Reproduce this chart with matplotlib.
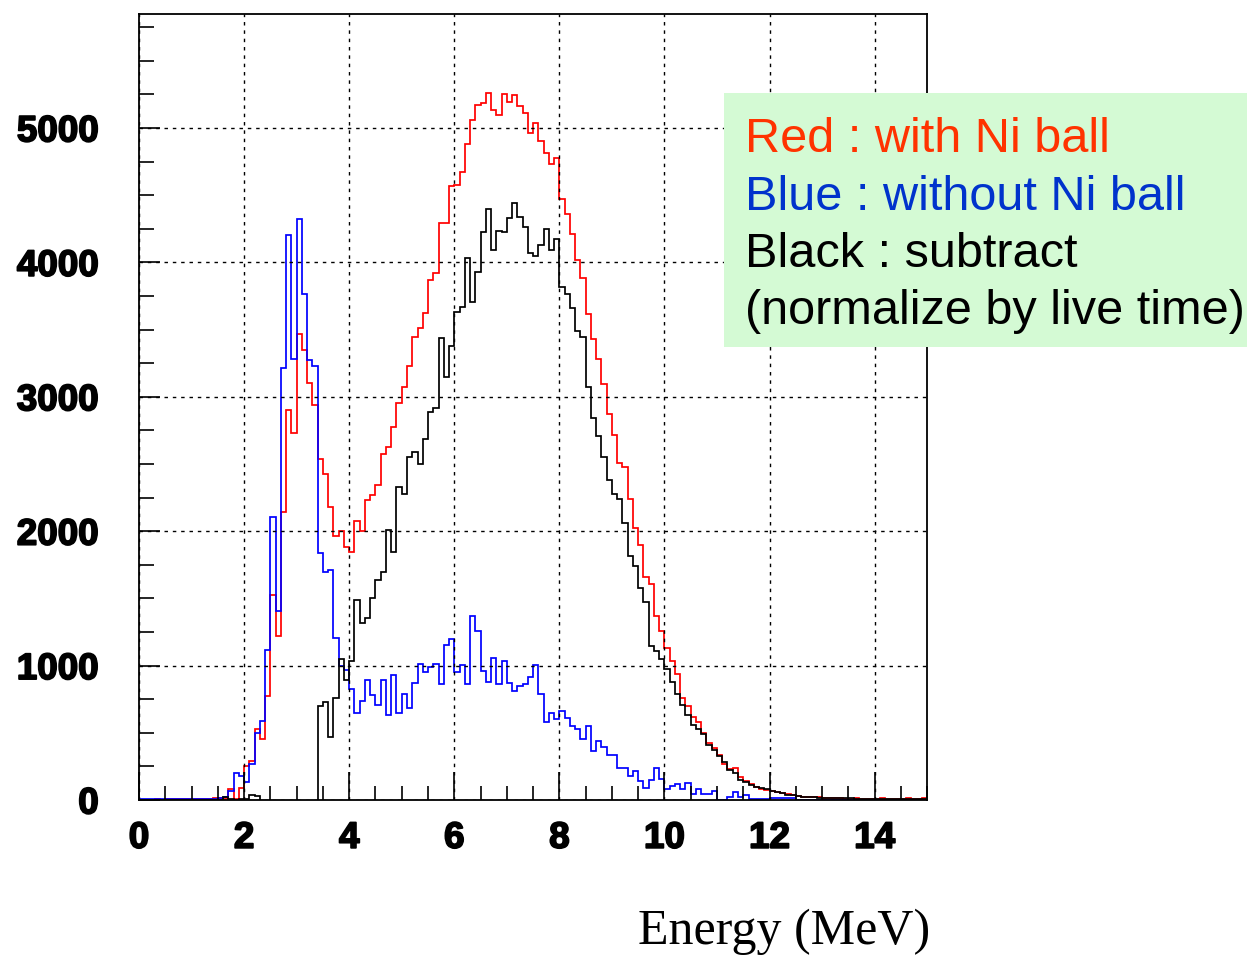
"""
Energy spectra with / without Ni ball and the subtracted spectrum.
"""
import matplotlib
matplotlib.use('Agg')
import matplotlib.pyplot as plt
import matplotlib.patheffects as pe
from matplotlib.patches import Rectangle
from matplotlib.ticker import MultipleLocator
import numpy as np

# 0.1 MeV bins from 0 to 15 MeV
bin_edges = np.round(np.arange(151) * 0.1, 1)

# Red : with Ni ball
red_counts = [
    2, 3, 2, 4, 3, 5, 4, 6, 5, 8,
    6, 9, 8, 10, 12, 12, 10, 80, 10, 90,
    250, 290, 525, 450, 774, 1522, 1223, 2145, 2904, 2730,
    3464, 3348, 3101, 2942, 2540, 2426, 2178, 1967, 2004, 1880,
    1848, 2078, 2004, 2232, 2272, 2344, 2574, 2629, 2777, 2955,
    3069, 3230, 3448, 3515, 3626, 3869, 3923, 4295, 4290, 4567,
    4579, 4671, 4884, 5057, 5173, 5186, 5262, 5136, 5094, 5250,
    5193, 5245, 5161, 5114, 4965, 5040, 4901, 4814, 4735, 4777,
    4475, 4362, 4209, 4014, 3884, 3617, 3429, 3284, 3096, 2875,
    2716, 2507, 2478, 2241, 2020, 1899, 1658, 1609, 1371, 1255,
    1130, 1033, 940, 762, 700, 620, 580, 500, 425, 385,
    336, 268, 234, 235, 170, 141, 116, 94, 79, 74,
    67, 57, 49, 42, 37, 32, 25, 22, 24, 20,
    15, 12, 14, 12, 10, 11, 12, 10, 9, 11,
    10, 12, 10, 9, 11, 10, 12, 11, 10, 12,
]

# Blue : without Ni ball
blue_counts = [
    5, 4, 6, 5, 4, 6, 5, 7, 6, 5,
    6, 7, 5, 8, 6, 12, 25, 70, 198, 179,
    131, 264, 500, 584, 1116, 2107, 1406, 3211, 4203, 3281,
    4319, 3768, 3275, 3232, 1835, 1699, 1711, 1203, 1000, 967,
    823, 650, 737, 890, 780, 710, 889, 629, 933, 644,
    792, 681, 871, 1015, 950, 990, 1012, 866, 1156, 1200,
    953, 1007, 866, 1366, 1255, 963, 876, 1057, 866, 1032,
    871, 814, 851, 866, 916, 1007, 786, 580, 645, 600,
    664, 610, 553, 530, 452, 550, 363, 440, 391, 333,
    333, 238, 238, 180, 217, 139, 86, 147, 239, 157,
    79, 106, 120, 79, 128, 48, 84, 46, 42, 68,
    3, 3, 24, 60, 25, 37, 5, 5, 5, 5,
    17, 17, 17, 17, 17, 3, 3, 3, 3, 3,
    3, 3, 3, 3, 3, 3, 3, 3, 3, 3,
    3, 3, 3, 3, 3, 3, 3, 3, 3, 3,
]

# Black : subtract (normalized by live time)
black_counts = [
    2, 1, 2, 1, 2, 1, 2, 1, 2, 2,
    2, 1, 2, 2, 3, 3, 20, 5, 3, 5,
    10, 40, 28, -130, -340, -585, -183, -1066, -1299, -551,
    -855, -420, -174, -290, 700, 730, 468, 761, 1046, 895,
    1033, 1490, 1315, 1352, 1501, 1638, 1696, 2005, 1844, 2332,
    2277, 2554, 2592, 2498, 2686, 2884, 2913, 3436, 3144, 3381,
    3629, 3671, 4030, 3708, 3926, 4228, 4394, 4089, 4235, 4228,
    4332, 4438, 4334, 4265, 4067, 4047, 4129, 4245, 4090, 4176,
    3813, 3766, 3658, 3490, 3442, 3072, 2841, 2710, 2551, 2383,
    2275, 2241, 2064, 1812, 1739, 1575, 1470, 1148, 1111, 1050,
    975, 876, 787, 707, 634, 557, 531, 494, 407, 375,
    324, 282, 220, 202, 148, 131, 111, 99, 86, 79,
    67, 57, 49, 40, 35, 30, 25, 22, 20, 18,
    16, 15, 14, 13, 12, 12, 11, 10, 10, 9,
    9, 9, 8, 8, 8, 8, 7, 7, 7, 7,
]

legend_lines = [
    ('Red : with Ni ball', '#ff3300'),
    ('Blue : without Ni ball', '#0033cc'),
    ('Black : subtract', 'black'),
    ('(normalize by live time)', 'black'),
]

fig = plt.figure(figsize=(12.47, 9.56), dpi=100)
ax = fig.add_axes([0.1115, 0.1632, 0.632, 0.8222])

# Histograms
ax.stairs(red_counts, bin_edges, color='#ff0000', linewidth=1.25, baseline=None)
ax.stairs(blue_counts, bin_edges, color='#0000ff', linewidth=1.25, baseline=None)
ax.stairs(black_counts, bin_edges, color='black', linewidth=1.25, baseline=None)

ax.set_xlim(0, 15)
ax.set_ylim(0, 5848)

# ROOT-like ticks
ax.xaxis.set_major_locator(MultipleLocator(2))
ax.xaxis.set_minor_locator(MultipleLocator(0.5))
ax.yaxis.set_major_locator(MultipleLocator(1000))
ax.yaxis.set_minor_locator(MultipleLocator(250))
ax.tick_params(axis='x', which='major', direction='in', length=20, width=1.2, pad=15)
ax.tick_params(axis='x', which='minor', direction='in', length=10, width=1.2)
ax.tick_params(axis='y', which='major', direction='in', length=15, width=1.2, pad=29)
ax.tick_params(axis='y', which='minor', direction='in', length=10.5, width=1.2)
heavy = [pe.withStroke(linewidth=1.3, foreground='black')]
for lab in ax.get_xticklabels() + ax.get_yticklabels():
    lab.set_fontfamily('Liberation Sans')
    lab.set_fontweight('bold')
    lab.set_fontsize(26.5)
    lab.set_path_effects(heavy)

ax.grid(True, which='major', color='black', linestyle=(0, (2.5, 3.5)), linewidth=1.0)
for spine in ax.spines.values():
    spine.set_linewidth(1.3)

# Legend box (drawn over the axes)
fig.add_artist(Rectangle((724 / 1247, 1 - 347 / 956), 523 / 1247, 254 / 956,
                         transform=fig.transFigure, facecolor='#d4fad4',
                         edgecolor='none', zorder=10))
baselines = [152, 210, 267, 324]
for (text, color), yb in zip(legend_lines, baselines):
    fig.text(745 / 1247, 1 - yb / 956, text, color=color, fontsize=35,
             fontfamily='Liberation Sans', va='baseline', ha='left', zorder=11)

# Axis title
fig.text(784 / 1247, 1 - 944 / 956, 'Energy (MeV)', fontsize=36,
         fontfamily='Liberation Serif', ha='center', va='baseline')

plt.savefig('out.png', dpi=100, facecolor='white')
plt.close()
